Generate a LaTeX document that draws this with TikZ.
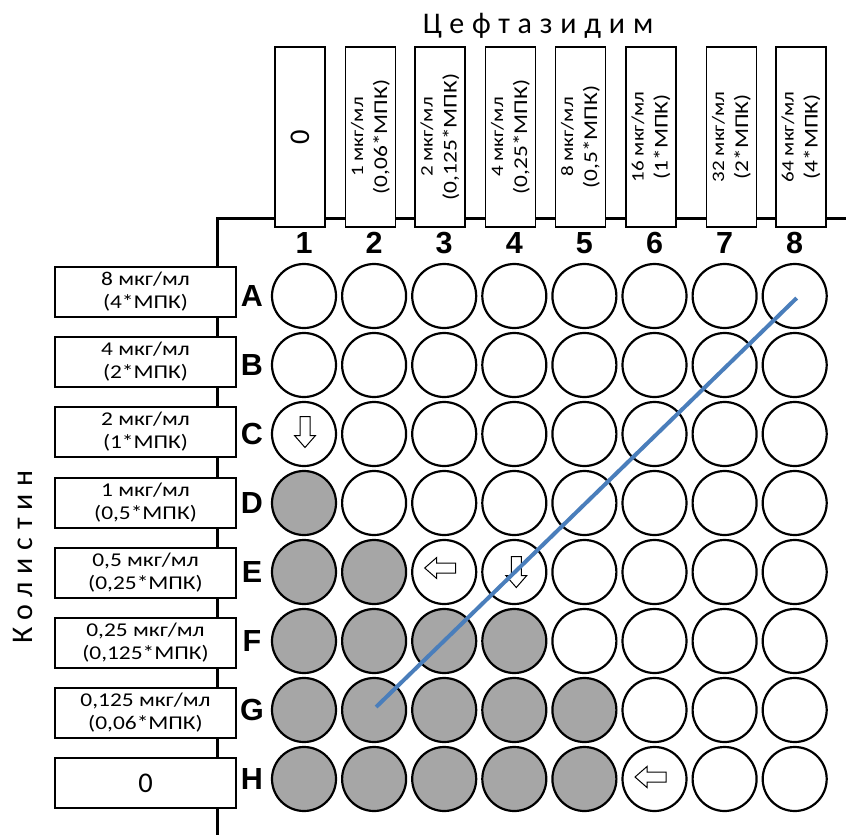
\documentclass[tikz,border=0pt]{standalone}
\usepackage{fontspec}
\usetikzlibrary{calc}
\setmainfont{Carlito}
\newfontfamily\boxfont{Carlito}[FakeStretch=1.2]
\newfontfamily\labfont{Liberation Sans}
\newfontfamily\spacedfont[LetterSpace=26]{Carlito}
\definecolor{wellgrey}{HTML}{A6A6A6}
\definecolor{lineblue}{HTML}{4A7EBB}
\newcommand{\firstline}[1]{{\fontsize{17.5}{23}\selectfont #1}}
\tikzset{
  well/.style={circle,draw=black,line width=2.2pt,minimum size=64pt,inner sep=0pt,fill=white},
  greywell/.style={well,fill=wellgrey},
  rowbox/.style={draw=black,line width=1.5pt,fill=white,minimum width=181pt,minimum height=50pt,inner sep=0pt,align=center,font=\boxfont\fontsize{19.5}{23}\selectfont},
  colbox/.style={rowbox,minimum width=180pt,minimum height=50pt,rotate=90,font=\boxfont\fontsize{19.5}{24}\selectfont},
  zerotext/.style={font=\rmfamily\fontsize{28.5}{28.5}\selectfont},
  platelabel/.style={font=\labfont\bfseries\fontsize{30.5}{30.5}\selectfont,inner sep=0pt},
  plateline/.style={line width=3pt,black},
  axistitle/.style={font=\spacedfont\fontsize{30}{30}\selectfont,inner sep=0pt},
  blockarrow/.style={draw=black,line width=1pt,fill=white,line join=miter},
  darr/.pic={\path[blockarrow] (-5,-15.5) -- (5,-15.5) -- (5,3.5) -- (10.5,3.5) -- (0,15.5) -- (-10.5,3.5) -- (-5,3.5) -- cycle;},
  larr/.pic={\path[blockarrow] (15.5,-5) -- (15.5,5) -- (-3.5,5) -- (-3.5,10.5) -- (-15.5,0) -- (-3.5,-10.5) -- (-3.5,-5) -- cycle;}
}
\begin{document}
\begin{tikzpicture}[x=1pt,y=-1pt]
\useasboundingbox (0,0) rectangle (846,835);
\fill[white] (0,0) rectangle (846,835);

% plate corner
\coordinate (corner) at (217,218);
\coordinate (rightend) at (846,218);
\coordinate (bottomend) at (217,835);
\draw[plateline] (rightend) -- (corner) -- (bottomend);

% titles
\node[axistitle,anchor=base] (ceft) at (538,33) {Цефтазидим};
\node[axistitle,rotate=90] (kol) at (23,557) {Колистин};

% column header boxes
\node[colbox,zerotext] (h1) at (300,137) {0};
\node[colbox] (h2) at (370.5,137) {\firstline{1 мкг/мл}\\(0,06*МПК)};
\node[colbox] (h3) at (440,137) {\firstline{2 мкг/мл}\\(0,125*МПК)};
\node[colbox] (h4) at (510.5,137) {\firstline{4 мкг/мл}\\(0,25*МПК)};
\node[colbox] (h5) at (580.5,137) {\firstline{8 мкг/мл}\\(0,5*МПК)};
\node[colbox] (h6) at (651,137) {\firstline{16 мкг/мл}\\(1*МПК)};
\node[colbox] (h7) at (731.5,137) {\firstline{32 мкг/мл}\\(2*МПК)};
\node[colbox] (h8) at (801,137) {\firstline{64 мкг/мл}\\(4*МПК)};

% row label boxes
\node[rowbox] (rA) at (145.5,292) {8 мкг/мл\\(4*МПК)};
\node[rowbox] (rB) at (145.5,362) {4 мкг/мл\\(2*МПК)};
\node[rowbox] (rC) at (145.5,432) {2 мкг/мл\\(1*МПК)};
\node[rowbox] (rD) at (145.5,503) {1 мкг/мл\\(0,5*МПК)};
\node[rowbox] (rE) at (145.5,573) {0,5 мкг/мл\\(0,25*МПК)};
\node[rowbox] (rF) at (145.5,643) {0,25 мкг/мл\\(0,125*МПК)};
\node[rowbox] (rG) at (145.5,713) {0,125 мкг/мл\\(0,06*МПК)};
\node[rowbox,zerotext] (rH) at (145.5,783) {0};

% column numbers
\foreach \c in {1,...,8}{
  \pgfmathsetmacro\xx{304+70.1*(\c-1)}
  \node[platelabel] (n\c) at (\xx,243) {\c};
}

% wells and row letters
\foreach \L/\gr [count=\i from 0] in {A/0,B/0,C/0,D/1,E/2,F/4,G/5,H/5}{
  \pgfmathsetmacro\yy{296+69*\i}
  \node[platelabel] (l\L) at (252,\yy) {\L};
  \foreach \c in {1,...,8}{
    \pgfmathsetmacro\xx{304+70.1*(\c-1)}
    \ifnum\c>\gr\relax
      \node[well] (\L\c) at (\xx,\yy) {};
    \else
      \node[greywell] (\L\c) at (\xx,\yy) {};
    \fi
  }
}

% block arrows
\pic at ($(C1)+(1,-2)$) {darr};
\pic at ($(E4)+(2,0)$) {darr};
\pic at ($(E3)+(-4,-4)$) {larr};
\pic at ($(H6)+(-4,-2)$) {larr};

% blue diagonal
\draw[lineblue,line width=4pt] ($(G2)+(2,-3)$) -- ($(A8)+(2,2)$);
\end{tikzpicture}
\end{document}
